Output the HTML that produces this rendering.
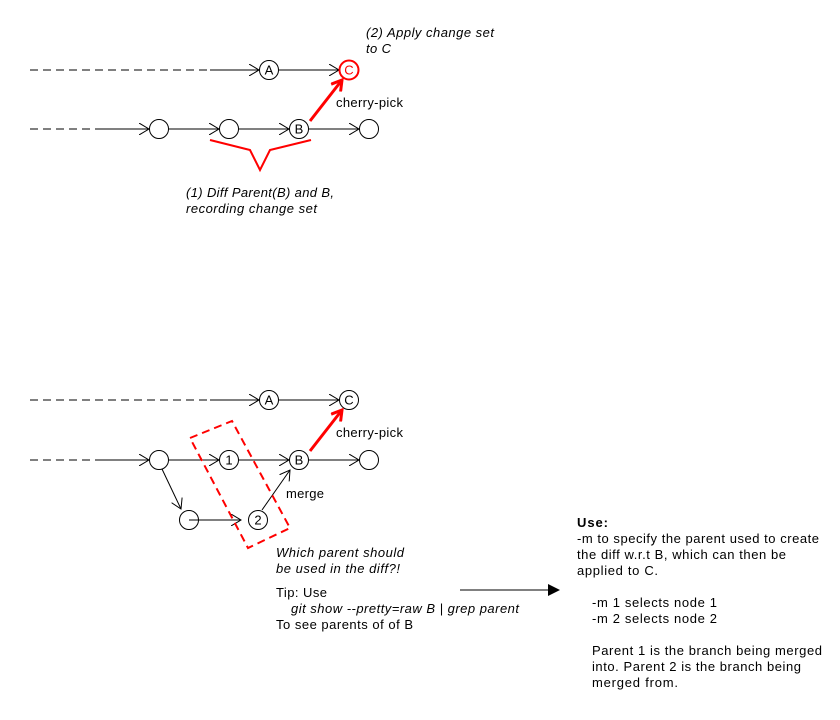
<!DOCTYPE html>
<html><head><meta charset="utf-8"><style>
html,body{margin:0;padding:0;background:#fff;}
svg{display:block;font-family:"Liberation Sans",Arial,sans-serif;font-size:13px;}
</style></head><body>
<svg width="840" height="720" viewBox="0 0 840 720" xmlns="http://www.w3.org/2000/svg">
<defs>
<marker id="o" markerWidth="12" markerHeight="12" refX="10" refY="6" orient="auto" markerUnits="userSpaceOnUse">
<path d="M0,0 L10,6 L0,12" fill="none" stroke="#000" stroke-width="1"/></marker>
<marker id="r" markerWidth="14" markerHeight="14" refX="11" refY="7" orient="auto" markerUnits="userSpaceOnUse">
<path d="M1,1 L11,7 L1,13" fill="none" stroke="#f00" stroke-width="3"/></marker>
</defs>
<g stroke="#000" fill="none" stroke-width="1">
<line x1="30" y1="70" x2="210" y2="70" stroke-dasharray="8,5"/>
<line x1="210" y1="70" x2="259" y2="70" marker-end="url(#o)"/>
<line x1="279" y1="70" x2="339" y2="70" marker-end="url(#o)"/>
<line x1="30" y1="129" x2="95" y2="129" stroke-dasharray="8,5"/>
<line x1="95" y1="129" x2="149" y2="129" marker-end="url(#o)"/>
<line x1="169" y1="129" x2="219" y2="129" marker-end="url(#o)"/>
<line x1="239" y1="129" x2="289" y2="129" marker-end="url(#o)"/>
<line x1="309" y1="129" x2="359" y2="129" marker-end="url(#o)"/>
<circle cx="269" cy="70" r="9.5" fill="#fff"/>
<circle cx="159" cy="129" r="9.5" fill="#fff"/>
<circle cx="229" cy="129" r="9.5" fill="#fff"/>
<circle cx="299" cy="129" r="9.5" fill="#fff"/>
<circle cx="369" cy="129" r="9.5" fill="#fff"/>
<line x1="30" y1="400" x2="210" y2="400" stroke-dasharray="8,5"/>
<line x1="210" y1="400" x2="259" y2="400" marker-end="url(#o)"/>
<line x1="279" y1="400" x2="339" y2="400" marker-end="url(#o)"/>
<line x1="30" y1="460" x2="95" y2="460" stroke-dasharray="8,5"/>
<line x1="95" y1="460" x2="149" y2="460" marker-end="url(#o)"/>
<line x1="169" y1="460" x2="219" y2="460" marker-end="url(#o)"/>
<line x1="239" y1="460" x2="289" y2="460" marker-end="url(#o)"/>
<line x1="309" y1="460" x2="359" y2="460" marker-end="url(#o)"/>
<line x1="162" y1="469" x2="181" y2="509" marker-end="url(#o)"/>
<line x1="189" y1="520" x2="241" y2="520" marker-end="url(#o)"/>
<line x1="262" y1="510" x2="290" y2="470" marker-end="url(#o)"/>
<circle cx="269" cy="400" r="9.5" fill="#fff"/>
<circle cx="349" cy="400" r="9.5" fill="#fff"/>
<circle cx="159" cy="460" r="9.5" fill="#fff"/>
<circle cx="229" cy="460" r="9.5" fill="#fff"/>
<circle cx="299" cy="460" r="9.5" fill="#fff"/>
<circle cx="369" cy="460" r="9.5" fill="#fff"/>
<circle cx="189" cy="520" r="9.5" fill="#fff"/>
<line x1="189" y1="520" x2="199" y2="520"/>
<circle cx="258" cy="520" r="9.5" fill="#fff"/>
<line x1="460" y1="590" x2="550" y2="590"/>
</g>
<path d="M548,584 L560,590 L548,596 Z" fill="#000"/>
<circle cx="349" cy="70" r="9.5" fill="#fff" stroke="#f00" stroke-width="2"/>
<line x1="310" y1="121" x2="342" y2="80" stroke="#f00" stroke-width="3" marker-end="url(#r)"/>
<line x1="310" y1="451" x2="342" y2="410" stroke="#f00" stroke-width="3" marker-end="url(#r)"/>
<polyline points="210,140 250,150 260,170 270,150 311,140" fill="none" stroke="#f00" stroke-width="2"/>
<polygon points="190,438 232,421 290,528 248,548" fill="none" stroke="#f00" stroke-width="2" stroke-dasharray="8,5"/>
<g fill="#000" text-anchor="middle">
<text x="269" y="74.5">A</text>
<text x="349" y="74.5" fill="#f00">C</text>
<text x="299" y="133.5">B</text>
<text x="269" y="404.5">A</text>
<text x="349" y="404.5">C</text>
<text x="229" y="464.5">1</text>
<text x="299" y="464.5">B</text>
<text x="258" y="524.5">2</text>
</g>
<g fill="#000">
<text x="366" y="37" font-style="italic" textLength="128">(2) Apply change set</text>
<text x="366" y="53" font-style="italic" textLength="25">to C</text>
<text x="336" y="107" textLength="67">cherry-pick</text>
<text x="186" y="197" font-style="italic" textLength="148">(1) Diff Parent(B) and B,</text>
<text x="186" y="213" font-style="italic" textLength="131">recording change set</text>
<text x="336" y="437" textLength="67">cherry-pick</text>
<text x="286" y="498" textLength="38">merge</text>
<text x="276" y="557" font-style="italic" textLength="128">Which parent should</text>
<text x="276" y="573" font-style="italic" textLength="124">be used in the diff?!</text>
<text x="276" y="597" textLength="51">Tip: Use</text>
<text x="291" y="613" font-style="italic" textLength="228">git show --pretty=raw B | grep parent</text>
<text x="276" y="629" textLength="137">To see parents of of B</text>
<text x="577" y="527" font-weight="bold" textLength="31">Use:</text>
<text x="577" y="543" textLength="242">-m to specify the parent used to create</text>
<text x="577" y="559" textLength="209">the diff w.r.t B, which can then be</text>
<text x="577" y="575" textLength="81">applied to C.</text>
<text x="592" y="607" textLength="125">-m 1 selects node 1</text>
<text x="592" y="623" textLength="125">-m 2 selects node 2</text>
<text x="592" y="655" textLength="230">Parent 1 is the branch being merged</text>
<text x="592" y="671" textLength="209">into. Parent 2 is the branch being</text>
<text x="592" y="687" textLength="86">merged from.</text>
</g>
</svg>
</body></html>
